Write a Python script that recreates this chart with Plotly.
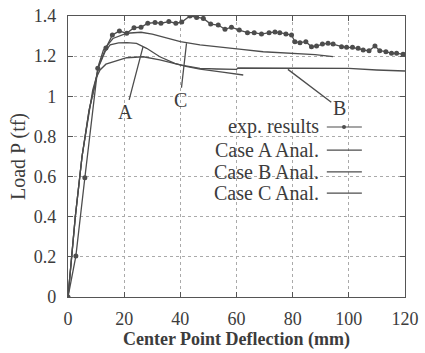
import plotly.graph_objects as go

# Experimental results
exp_x = [0, 2.8, 6.0, 10.6, 13.5, 15.8, 18.3, 20.9, 23.5, 26.0, 28.4, 31.0, 33.1, 35.9, 38.4, 40.5,
         43.4, 45.8, 48.2, 50.8, 53.5, 55.9, 58.2, 61.0, 63.9, 66.3, 68.9, 71.6, 73.7, 75.4, 77.6,
         79.6, 80.8, 82.6, 84.7, 86.7, 88.5, 90.6, 92.6, 94.4, 97.4, 99.2, 101.3, 103.3, 105.1,
         107.2, 109.3, 111.0, 113.2, 115.2, 117.0, 119.3]
exp_y = [0, 0.204, 0.594, 1.14, 1.24, 1.305, 1.325, 1.314, 1.342, 1.344, 1.364, 1.367, 1.364, 1.372,
         1.364, 1.370, 1.400, 1.393, 1.388, 1.360, 1.355, 1.334, 1.344, 1.330, 1.317, 1.317, 1.310,
         1.317, 1.320, 1.317, 1.310, 1.305, 1.272, 1.267, 1.272, 1.247, 1.250, 1.260, 1.264, 1.260,
         1.247, 1.244, 1.244, 1.239, 1.230, 1.227, 1.250, 1.227, 1.222, 1.214, 1.214, 1.210]

# Analytical cases
a_x = [0, 2.6, 5.0, 7.5, 9.3, 11.0, 13.2, 15.0, 18.0, 21.0, 24.4, 28.0, 32.7, 38.0, 42.0, 47.0, 55.0, 62.4]
a_y = [0, 0.40, 0.70, 0.93, 1.04, 1.15, 1.222, 1.256, 1.266, 1.267, 1.264, 1.239, 1.197, 1.164, 1.149,
       1.135, 1.120, 1.106]

b_x = [0, 2.6, 5.0, 7.5, 8.8, 10.0, 11.4, 13.5, 16.1, 20.9, 26.8, 32.7, 39.9, 47.0, 53.0, 60.0, 60.5,
       70.0, 82.6, 100.0, 109.9, 120.0]
b_y = [0, 0.40, 0.70, 0.92, 1.03, 1.09, 1.131, 1.160, 1.172, 1.192, 1.197, 1.181, 1.156, 1.139, 1.136,
       1.134, 1.141, 1.141, 1.140, 1.139, 1.131, 1.126]

c_x = [0, 2.6, 5.0, 7.5, 9.3, 11.0, 12.6, 16.0, 21.0, 26.0, 30.0, 34.0, 40.0, 47.0, 54.0, 61.8, 69.5,
       80.0, 88.0, 94.4]
c_y = [0, 0.40, 0.70, 0.93, 1.04, 1.16, 1.23, 1.288, 1.314, 1.319, 1.310, 1.295, 1.272, 1.256, 1.247,
       1.234, 1.222, 1.214, 1.208, 1.198]

legend_names = ["exp. results", "Case A Anal.", "Case B Anal.", "Case C Anal."]
x_ticks = [0, 20, 40, 60, 80, 100, 120]
y_ticks = [0, 0.2, 0.4, 0.6, 0.8, 1, 1.2, 1.4]
y_tick_text = ["0", "0.2", "0.4", "0.6", "0.8", "1", "1.2", "1.4"]

# Pointer labels: (text, label x, label y, point x, point y)
pointers = [("A", 20.6, 0.92, 26.7, 1.246),
            ("C", 39.9, 0.98, 42.2, 1.264),
            ("B", 96.6, 0.94, 78.3, 1.134)]

LINE = "#4d4d4d"
TXT = "#3c3c3c"
FONT = "Liberation Serif"

fig = go.Figure()
fig.add_trace(go.Scatter(x=a_x, y=a_y, mode="lines", line=dict(color=LINE, width=1.3), showlegend=False))
fig.add_trace(go.Scatter(x=b_x, y=b_y, mode="lines", line=dict(color=LINE, width=1.3), showlegend=False))
fig.add_trace(go.Scatter(x=c_x, y=c_y, mode="lines", line=dict(color=LINE, width=1.3), showlegend=False))
fig.add_trace(go.Scatter(x=exp_x, y=exp_y, mode="lines+markers",
                         line=dict(color=LINE, width=1.3),
                         marker=dict(color=LINE, size=5, symbol="circle"), showlegend=False))

for t, lx, ly, px, py in pointers:
    fig.add_annotation(x=px, y=py, ax=lx, ay=ly, axref="x", ayref="y", xref="x", yref="y",
                       text=t, showarrow=True, arrowhead=0, arrowwidth=1.3, arrowcolor=LINE,
                       font=dict(family=FONT, size=20, color=TXT), standoff=0, startstandoff=0)

# Manual legend (text on the left, sample on the right)
rows_y = [0.605, 0.523, 0.445, 0.370]
for i, name in enumerate(legend_names):
    yy = rows_y[i]
    fig.add_annotation(x=0.752, y=yy, xref="paper", yref="paper", text=name, showarrow=False,
                       xanchor="right", yanchor="middle", font=dict(family=FONT, size=20, color=TXT))
    fig.add_shape(type="line", xref="paper", yref="paper", x0=0.768, x1=0.872, y0=yy, y1=yy,
                  line=dict(color=LINE, width=1.2))
fig.add_shape(type="circle", xref="paper", yref="paper", x0=0.813, x1=0.825,
              y0=rows_y[0] - 0.0075, y1=rows_y[0] + 0.0075, fillcolor=LINE, line=dict(width=0))

axis_common = dict(showline=True, linecolor="#555", linewidth=1.2, mirror="ticks", ticks="inside",
                   ticklen=5, tickcolor="#555", showgrid=True, gridcolor="#aaaaaa", griddash="dot",
                   gridwidth=1, zeroline=False, automargin=False,
                   tickfont=dict(family=FONT, size=18, color=TXT))

fig.update_xaxes(range=[0, 120], tickvals=x_ticks, ticklabelstandoff=5, **axis_common,
                 title=dict(text="<b>Center Point Deflection (mm)</b>", standoff=4,
                            font=dict(family=FONT, size=18, color=TXT)))
fig.update_yaxes(range=[0, 1.4], tickvals=y_ticks, ticktext=y_tick_text, ticklabelstandoff=7,
                 **axis_common,
                 title=dict(text="Load P (tf)", standoff=2, font=dict(family=FONT, size=20, color=TXT)))

fig.update_layout(width=425, height=353, margin=dict(l=68, r=20, t=16, b=56),
                  paper_bgcolor="white", plot_bgcolor="white")

fig.write_html("out.html")
